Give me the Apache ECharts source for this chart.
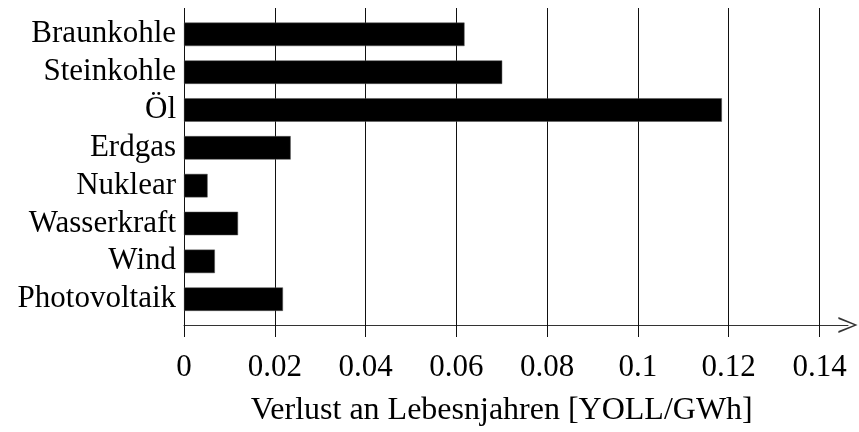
<!DOCTYPE html>
<html>
<head>
<meta charset="utf-8">
<script src="https://cdn.jsdelivr.net/npm/echarts@6/dist/echarts.min.js"></script>
<style>
html,body{margin:0;padding:0;background:#fff;}
#c{width:859px;height:432px;}
</style>
</head>
<body>
<div id="c"></div>
<script>
const categories = ['Braunkohle','Steinkohle','Öl','Erdgas','Nuklear','Wasserkraft','Wind','Photovoltaik'];
const values = [0.0618, 0.0701, 0.1185, 0.0235, 0.0052, 0.0119, 0.0068, 0.0218];
const xTicks = [0, 0.02, 0.04, 0.06, 0.08, 0.1, 0.12, 0.14];
const xTitle = 'Verlust an Lebesnjahren [YOLL/GWh]';

const FONT = 'Liberation Serif';
const chart = echarts.init(document.getElementById('c'), null, {renderer:'canvas'});
const fmt = v => {
  const r = Math.round(v*100)/100;
  return xTicks.some(t => Math.abs(t - r) < 1e-9) ? String(r) : '';
};
chart.setOption({
  animation:false,
  backgroundColor:'#fff',
  grid:[
    {left:184, right:39.5, top:8, height:317},
    {left:184, right:39.5, top:15.4, height:302.7},
    {left:184, right:11, top:8, height:317}
  ],
  xAxis:[
    {gridIndex:0, type:'value', min:xTicks[0], max:xTicks[xTicks.length-1], interval:0.02,
     axisLine:{show:false},
     axisTick:{show:true, length:15, inside:false, lineStyle:{color:'#111', width:1}},
     splitLine:{show:true, lineStyle:{color:'#111', width:1}},
     axisLabel:{show:true, formatter:fmt, fontFamily:FONT, fontSize:31, color:'#000', margin:30},
     name:xTitle, nameLocation:'middle', nameGap:73,
     nameTextStyle:{fontFamily:FONT, fontSize:32, color:'#000'}
    },
    {gridIndex:1, type:'value', min:xTicks[0], max:xTicks[xTicks.length-1], show:false},
    {gridIndex:2, type:'value', min:0, max:1, position:'bottom',
     axisLine:{show:true, lineStyle:{color:'#333', width:1},
       symbol:['none','path://M10,0 L20,24 L17.4,24 L10,4.5 L2.6,24 L0,24 Z'],
       symbolSize:[16,20], symbolOffset:[0,0]},
     axisTick:{show:false}, axisLabel:{show:false}, splitLine:{show:false}}
  ],
  yAxis:[
    {gridIndex:0, type:'value', show:false},
    {gridIndex:1, type:'category', data:categories, inverse:true,
     axisLine:{show:false}, axisTick:{show:false}, splitLine:{show:false},
     axisLabel:{interval:0, fontFamily:FONT, fontSize:31, color:'#000', margin:8, padding:[4,0,0,0]}},
    {gridIndex:2, type:'value', show:false}
  ],
  series:[{
    type:'bar', xAxisIndex:1, yAxisIndex:1, data:values, barWidth:23.5,
    itemStyle:{color:'#000', borderColor:'#555', borderWidth:0.5}
  }]
});
</script>
</body>
</html>
